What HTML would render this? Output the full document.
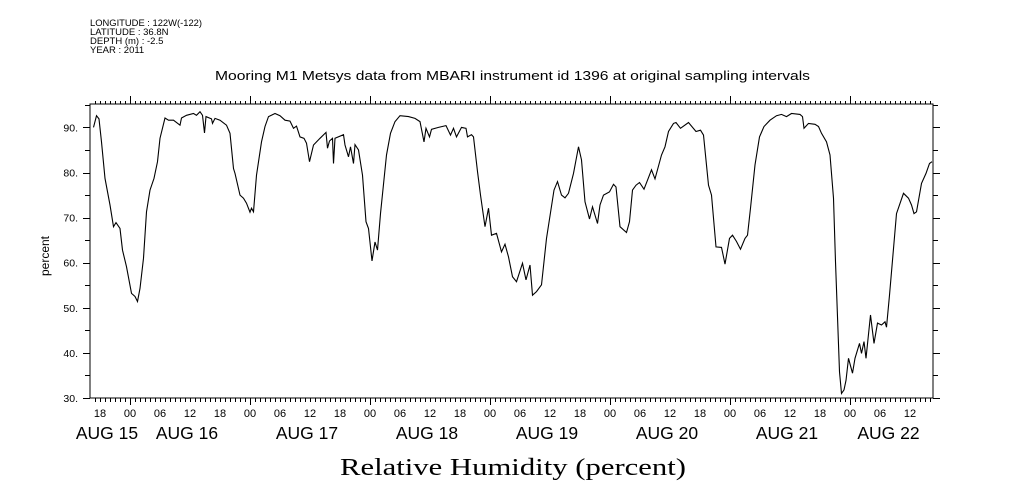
<!DOCTYPE html>
<html><head><meta charset="utf-8"><style>
body{margin:0;background:#fff;width:1009px;height:504px;overflow:hidden}
svg{display:block}
text{font-family:"Liberation Sans",sans-serif;fill:#000}
</style></head><body>
<svg id="chart" width="1009" height="504" viewBox="0 0 1009 504">
<g font-size="9.5">
<text x="90" y="26" textLength="112" lengthAdjust="spacingAndGlyphs">LONGITUDE : 122W(-122)</text>
<text x="90" y="35">LATITUDE : 36.8N</text>
<text x="90" y="44">DEPTH (m) : -2.5</text>
<text x="90" y="53">YEAR : 2011</text>
</g>
<text x="215" y="80" font-size="13" textLength="595" lengthAdjust="spacingAndGlyphs">Mooring M1 Metsys data from MBARI instrument id 1396 at original sampling intervals</text>
<text x="0" y="0" font-size="12" text-anchor="middle" transform="translate(49,256) rotate(-90)">percent</text>
<text x="340" y="475" font-size="24" textLength="346" lengthAdjust="spacingAndGlyphs" style="font-family:'Liberation Serif',serif">Relative Humidity (percent)</text>
<rect x="90" y="104" width="843" height="294" fill="none" stroke="#000" stroke-width="1"/>
<g id="axes"></g>
<path id="series" fill="none" stroke="#000" stroke-width="1.1"/>
</svg>
<script>
const hours = [-7.3,-6.7,-6.2,-5.7,-5,-4,-3.3,-2.8,-2,-1.5,-0.7,0.3,1,1.5,2,2.7,3.3,4,4.8,5.5,6,7,7.7,8.7,10,10.3,11.3,12.7,13.3,14,14.5,14.9,15.2,16.3,16.5,17,18,19.3,20,20.7,21,22,22.7,23.3,24,24.3,24.7,25.3,26.3,27,27.7,29,30,31,32,32.7,33.3,34,34.8,35.3,35.9,36.7,38,39.2,39.5,39.9,40.5,40.7,41,42.7,43,43.7,44.1,44.7,45,45.7,46.5,47.2,47.7,48.4,49,49.5,50.1,51.3,52.1,53,54,55.7,57,58,58.8,59.2,59.9,60.3,61.7,63.2,64.1,64.7,65.3,66.3,67.2,67.5,68.3,68.7,69.5,70.1,71,71.7,72.3,73.3,74.3,75,75.7,76.5,77.3,78.5,79.2,80,80.5,81.3,82.3,83.3,84.8,85.5,86.3,87,87.7,88.7,89.7,90.3,91,91.9,92.5,93.5,94,94.7,95.9,96.7,97.2,98,99.3,99.9,100.5,101.2,101.9,102.8,103.5,104.3,105,106.3,107,107.7,108.7,109.2,110.1,111.7,113.2,114.1,114.7,115.7,116.3,117.2,118.3,119,119.9,120.5,121.3,122.1,123,123.5,124.1,125,125.9,126.8,128,129.3,130.3,131.3,132.3,134,134.5,134.8,135.7,137,137.7,138.3,139.3,140,140.7,141.1,141.9,142.3,142.8,143.2,143.7,144.5,145,145.9,146.3,146.8,147.2,148.1,148.8,149.5,150.3,151,151.3,151.9,153.3,154.7,155.7,156.3,156.8,157.3,158.3,159.2,159.9,160.4];
const humidity = [90,92.6,91.9,86.8,78.7,72.8,68,68.9,67.6,62.8,59.1,53.2,52.5,51.4,54.3,61,71.3,76.1,78.7,82.4,87.6,92.1,91.6,91.6,90.5,92.1,92.7,93.1,92.7,93.5,92.7,88.8,92.4,91.9,90.9,92,91.6,90.5,88.7,80.9,79.8,75,74.3,73.2,71.2,72.1,71.3,79.4,86.8,90.2,92.4,93.1,92.6,91.6,91.4,89.8,90.3,87.9,87.6,86.5,82.4,86.1,87.6,88.9,85.4,87,87.6,82,87.6,88.4,86.1,83.5,85.7,82,86.2,85,79.4,69.1,67.6,60.4,64.6,62.8,70.9,83.9,88.7,91.3,92.6,92.4,92,91.3,86.8,89.8,87.9,89.6,90,90.4,88.3,89.8,87.9,90,89.8,87.9,88.4,87.9,80.2,75,68,72.1,66.1,66.5,62.4,64.1,61.3,56.9,55.8,59.9,56.2,59.5,52.8,53.6,55.1,65.4,76.1,78,75,74.4,75.4,79.8,85.7,82.8,73.5,69.7,72.4,68.7,72.8,75,75.7,77.4,76.8,68,66.7,69.1,76.1,77.2,77.8,76.3,78.3,80.6,78.6,83.9,85.7,89.1,90.9,91.1,89.8,91.1,89.1,89.4,88.3,77.2,75,63.5,63.4,59.7,65.4,66.1,64.7,63,65.4,66.1,72.1,81.7,87.9,90.2,91.6,92.6,92.9,92.4,93.1,92.9,92.4,89.8,90.9,90.7,90.2,88.7,86.8,83.9,74.3,60.2,35.8,31,31.8,33.9,38.8,35.5,38.8,42.1,39.9,42.5,38.8,48.4,42.1,46.6,46.2,46.9,45.7,52.8,70.9,75.4,74.3,72.8,70.9,71.3,77.6,79.8,82,82.4];
const yTicks = [30,40,50,60,70,80,90];
const hourLabels = ["18","00","06","12"];
const dayLabels = ["AUG 15","AUG 16","AUG 17","AUG 18","AUG 19","AUG 20","AUG 21","AUG 22"];
const X0=90,X1=933,Y0=398,Y1=104,HMIN=-8,HMAX=160.6,VMIN=30,VMAX=95.2;
function xs(h){return X0+(h-HMIN)/(HMAX-HMIN)*(X1-X0);}
function ys(v){return Y0-(v-VMIN)/(VMAX-VMIN)*(Y0-Y1);}
const NS="http://www.w3.org/2000/svg";
const ax=document.getElementById('axes');
function ln(x1,y1,x2,y2,name){const l=document.createElementNS(NS,'line');
l.setAttribute('x1',x1);l.setAttribute('y1',y1);l.setAttribute('x2',x2);l.setAttribute('y2',y2);
l.setAttribute('stroke','#000');l.setAttribute('stroke-width','1');


ax.appendChild(l);}
function tx(x,y,s,fs,anchor,name){const t=document.createElementNS(NS,'text');
t.setAttribute('x',x);t.setAttribute('y',y);t.setAttribute('font-size',fs);t.setAttribute('text-anchor',anchor);t.textContent=s;


ax.appendChild(t);}
for(let v=30;v<=95;v+=5){const y=Math.round(ys(v))+0.5;const major=v%10===0;
ln(X0-(major?7:5),y,X0,y,'y-tick-left');ln(X1,y,X1+(major?7:5),y,'y-tick-right');}
yTicks.forEach(v=>tx(X0-12,ys(v)+4,v+'.',10.5,'end','y-tick-label'));
for(let h=-7;h<=160;h++){const x=Math.round(xs(h))+0.5;const major=(h%24===0);
ln(x,Y0,x,Y0+(major?7:4),'x-tick-bottom');ln(x,Y1,x,Y1-(major?8:3),'x-tick-top');}
for(let h=-6,i=0;h<=160;h+=6,i++){tx(xs(h),417,hourLabels[i%4],11,'middle','x-hour-label');}
dayLabels.forEach((d,i)=>{const s=Math.max(HMIN,(i-1)*24),e=Math.min(HMAX,i*24);
tx((xs(s)+xs(e))/2-3,439,d,17.5,'middle','x-day-label');});
let p='';const n=Math.min(hours.length,humidity.length);
for(let i=0;i<n;i++){p+=(i?'L':'M')+xs(hours[i]).toFixed(1)+' '+ys(humidity[i]).toFixed(1);}
document.getElementById('series').setAttribute('d',p);
</script>
</body></html>
